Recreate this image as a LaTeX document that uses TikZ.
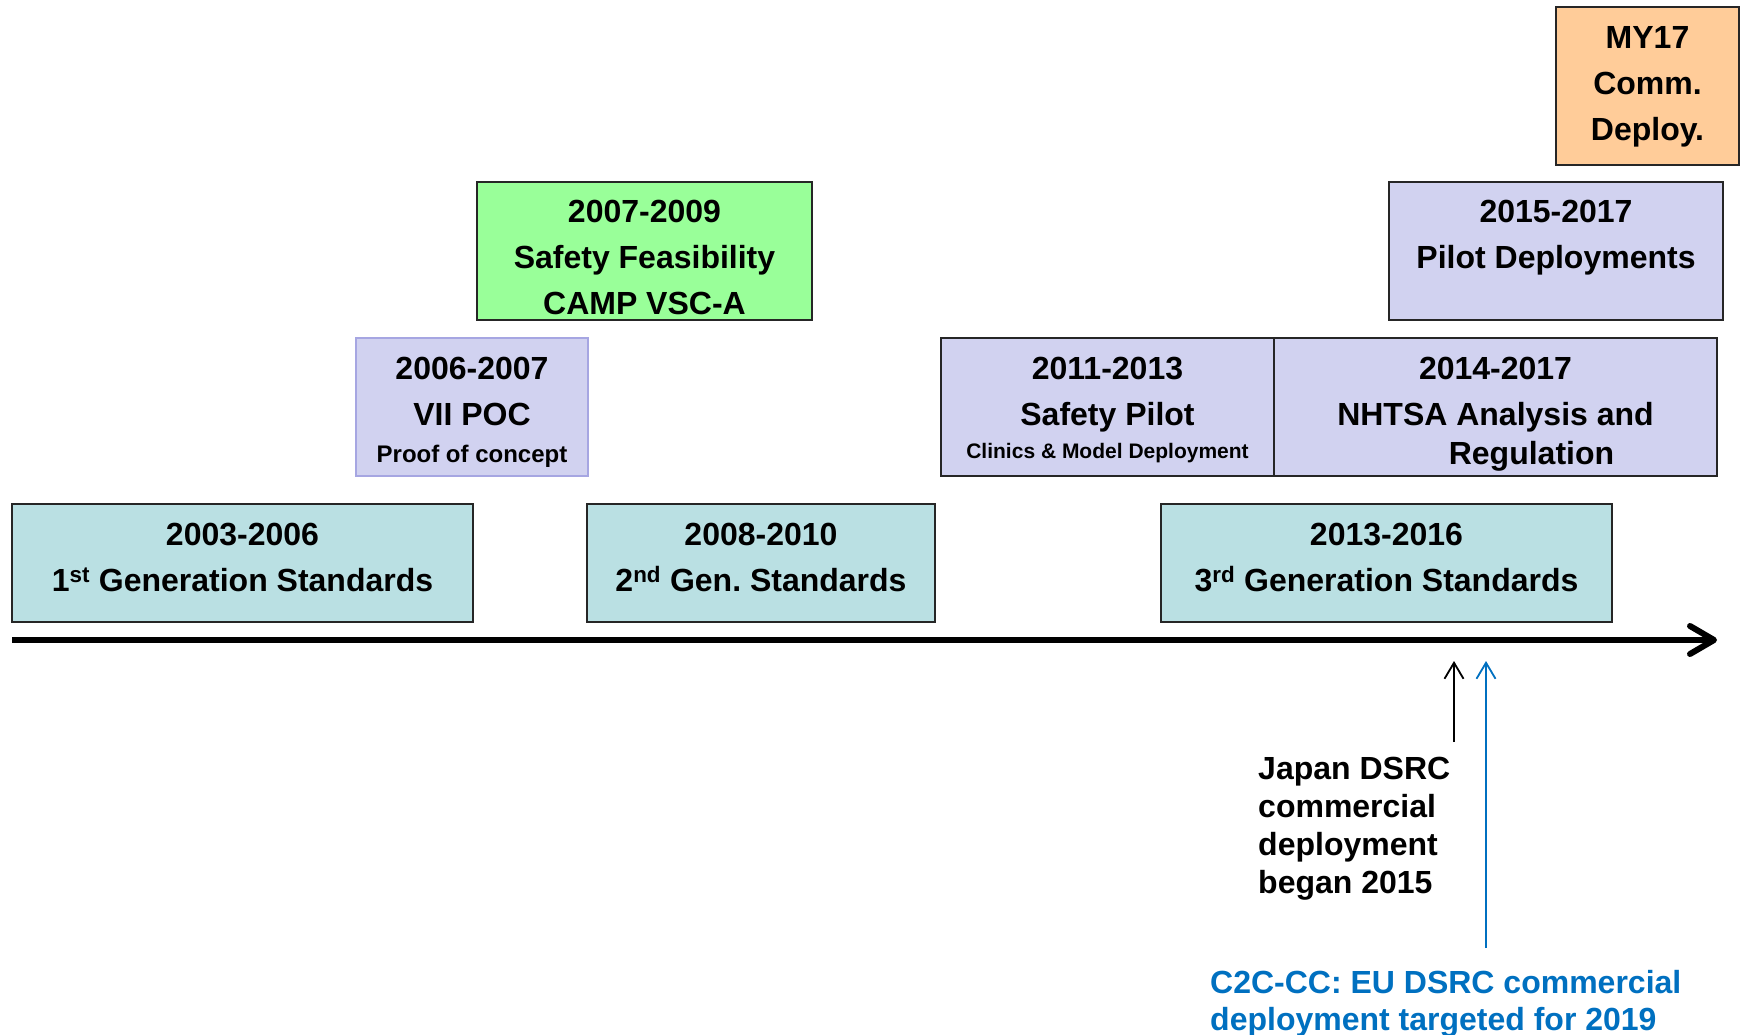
\documentclass[tikz,border=0pt]{standalone}
\usepackage{fontspec}
\setmainfont{Liberation Sans}
\usepackage{xcolor}
\usetikzlibrary{positioning, arrows.meta}

\definecolor{stdteal}{HTML}{BAE0E3}
\definecolor{vsclav}{HTML}{D1D2F0}
\definecolor{vsclavedge}{HTML}{A6A6E2}
\definecolor{feasgreen}{HTML}{99FF99}
\definecolor{deployorange}{HTML}{FFCC99}
\definecolor{eublue}{HTML}{0070C0}

\newcommand{\subtxt}[1]{{\fontsize{24}{28}\selectfont #1}}
\newcommand{\tinytxt}[1]{{\fontsize{21}{25}\selectfont #1}}

\begin{document}
\begin{tikzpicture}[x=1pt, y=-1pt,
    period/.style={draw=black!85, line width=1.5pt, inner sep=0pt, outer sep=0pt,
                   align=center, text depth=0pt, font=\bfseries\fontsize{32}{46}\selectfont},
    timeline/.style={line width=6pt,
                     -{Straight Barb[length=24pt, width=28pt, line cap=round, line join=round]}},
    tick/.style={line width=1.8pt, -{Straight Barb[length=16pt, width=19pt]}},
    note/.style={anchor=north west, inner sep=0pt, align=left,
                 font=\bfseries\fontsize{32}{38}\selectfont}
  ]
    \useasboundingbox (0,0) rectangle (1745,1035);
    % Standards row
    \node[period, fill=stdteal, minimum width=461pt, minimum height=118pt, text height=56.6pt] (gen1) at (242.5,563)
        {2003-2006\\1\textsuperscript{st} Generation Standards};
    \node[period, fill=stdteal, minimum width=348pt, minimum height=118pt, text height=56.6pt] (gen2) at (761,563)
        {2008-2010\\2\textsuperscript{nd} Gen.\ Standards};
    \node[period, fill=stdteal, minimum width=451pt, minimum height=118pt, text height=56.6pt] (gen3) at (1386.5,563)
        {2013-2016\\3\textsuperscript{rd} Generation Standards};
    % Second row
    \node[period, fill=vsclav, draw=vsclavedge, minimum width=232pt, minimum height=138pt, text height=111.2pt] (vii) at (472,407)
        {2006-2007\\VII POC\\[-9pt]\subtxt{Proof of concept}};
    \node[period, fill=vsclav, minimum width=333pt, minimum height=138pt, text height=102.4pt] (safety) at (1107.5,407)
        {2011-2013\\Safety Pilot\\[-13pt]\tinytxt{Clinics \& Model Deployment}};
    \node[period, fill=vsclav, minimum width=443pt, minimum height=138pt, text height=115pt, right=0pt of safety] (nhtsa)
        {2014-2017\\NHTSA Analysis and\\[-7pt]\hspace*{72pt}Regulation};
    % Third row
    \node[period, fill=feasgreen, minimum width=335pt, minimum height=138pt, text height=126.4pt] (camp) at (644.5,251)
        {2007-2009\\Safety Feasibility\\CAMP VSC-A};
    \node[period, fill=vsclav, minimum width=334pt, minimum height=138pt, text height=35.2pt] (pilots) at (1556,251)
        {2015-2017\\Pilot Deployments};
    % Top
    \node[period, fill=deployorange, minimum width=183pt, minimum height=158pt, text height=109.2pt] (my17) at (1647.5,86)
        {MY17\\Comm.\\Deploy.};
    % Time axis
    \coordinate (t0) at (12,640);
    \coordinate (t1) at (1717,640);
    \draw[timeline] (t0) -- (t1);
    % Deployment notes
    \coordinate (jpmark) at (1454,661);
    \coordinate (eumark) at (1486,661);
    \node[note] (japan) at (1258,757) {Japan DSRC\\commercial\\deployment\\began 2015};
    \node[note, text=eublue, font=\bfseries\fontsize{32}{37}\selectfont] (eu) at (1210,970)
        {C2C-CC: EU DSRC commercial\\deployment targeted for 2019};
    \draw[tick] ([yshift=15pt]japan.north -| jpmark) -- (jpmark);
    \draw[tick, eublue] ([yshift=22pt]eu.north -| eumark) -- (eumark);
  \end{tikzpicture}
\end{document}
